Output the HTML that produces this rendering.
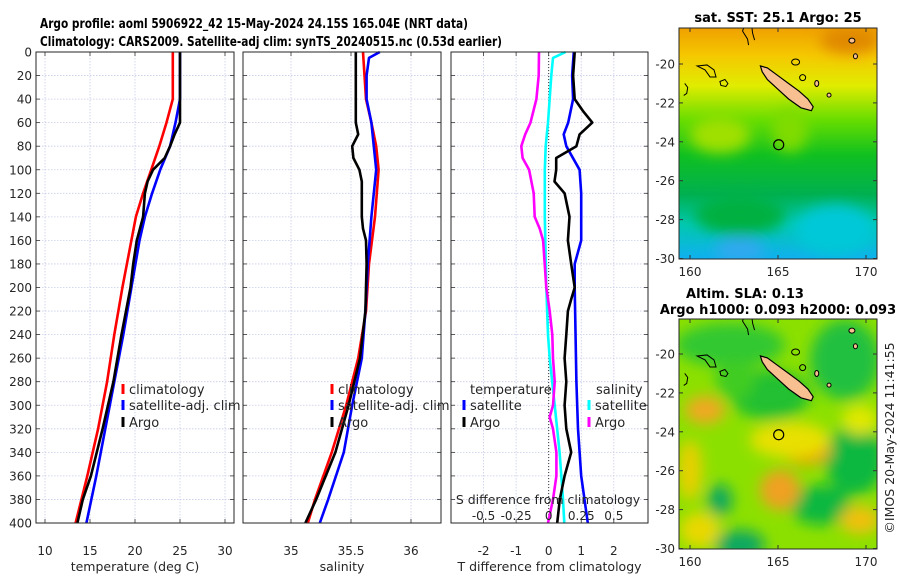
<!DOCTYPE html>
<html><head><meta charset="utf-8">
<style>
html,body{margin:0;padding:0;background:#fff;}
svg{display:block;font-family:"DejaVu Sans","Liberation Sans",sans-serif;}
</style></head>
<body>
<svg id="fig" width="900" height="580" viewBox="0 0 900 580" xmlns="http://www.w3.org/2000/svg">
<defs>
<linearGradient id="sstGrad" x1="0" y1="0" x2="0" y2="1">
<stop offset="0" stop-color="#f0a000"/>
<stop offset="0.12" stop-color="#f5c800"/>
<stop offset="0.25" stop-color="#e0ec00"/>
<stop offset="0.4" stop-color="#66dd00"/>
<stop offset="0.55" stop-color="#10c020"/>
<stop offset="0.72" stop-color="#00b050"/>
<stop offset="0.85" stop-color="#00c8b0"/>
<stop offset="1" stop-color="#10b0f0"/>
</linearGradient>
<filter id="blur" x="-50%" y="-50%" width="200%" height="200%"><feGaussianBlur stdDeviation="7"/></filter>
<clipPath id="clipTop"><rect x="679" y="28" width="198" height="231"/></clipPath>
<clipPath id="clipBot"><rect x="679" y="319" width="198" height="230"/></clipPath>
</defs>
<g id="titles">
<text x="40" y="28" font-size="13" font-weight="bold" textLength="428" lengthAdjust="spacingAndGlyphs">Argo profile: aoml 5906922_42 15-May-2024 24.15S 165.04E (NRT data)</text>
<text x="40" y="46" font-size="13" font-weight="bold" textLength="462" lengthAdjust="spacingAndGlyphs">Climatology: CARS2009. Satellite-adj clim: synTS_20240515.nc (0.53d earlier)</text>
</g>
<g id="panels"></g>
<g id="maps"></g>
</svg>
<script>
// ---- profile data ----
const tClimDepth = [0,40,60,80,100,120,140,160,200,240,280,320,360,400];
const tClimVal   = [24.2,24.2,23.5,22.7,21.8,20.9,20.1,19.6,18.6,17.7,16.9,15.9,14.7,13.4];
const tSatDepth  = [0,40,60,80,100,120,140,160,200,240,280,320,360,400];
const tSatVal    = [25,25,24.5,23.9,22.8,21.9,21.1,20.5,19.6,18.7,17.7,16.7,15.7,14.6];
const tArgoDepth = [0,40,60,70,80,90,100,110,120,140,160,180,200,220,240,280,320,360,380,400];
const tArgoVal   = [25,25,25,24.4,23.9,23.3,22,21.4,21.1,20.9,20.2,19.8,19.5,19,18.5,17.6,16.4,15.1,14.2,13.6];

const sClimDepth = [0,40,60,80,100,140,180,220,260,300,340,380,400];
const sClimVal   = [35.60,35.625,35.67,35.71,35.73,35.70,35.65,35.625,35.56,35.46,35.34,35.20,35.14];
const sSatDepth  = [0,5,20,40,60,80,100,140,180,220,260,300,340,380,400];
const sSatVal    = [35.74,35.65,35.63,35.63,35.67,35.69,35.71,35.67,35.64,35.62,35.59,35.51,35.44,35.31,35.24];
const sArgoDepth = [0,60,70,80,90,100,110,140,150,160,180,220,260,300,340,380,400];
const sArgoVal   = [35.54,35.54,35.56,35.51,35.52,35.57,35.59,35.59,35.60,35.625,35.63,35.62,35.575,35.48,35.37,35.21,35.12];

const dTSatDepth  = [0,20,40,60,70,80,100,120,160,180,200,280,320,360,400];
const dTSatVal    = [0.77,0.72,0.75,0.6,0.46,0.54,0.95,1.0,1.0,0.8,0.8,0.85,0.9,1.0,1.2];
const dTArgoDepth = [0,20,40,50,60,70,80,90,100,110,120,140,160,180,200,210,220,240,260,280,300,320,340,360,380,400];
const dTArgoVal   = [0.8,0.75,0.8,1.05,1.34,0.95,0.85,0.23,0.23,0.18,0.49,0.64,0.59,0.69,0.8,0.69,0.59,0.54,0.49,0.54,0.49,0.54,0.69,0.49,0.34,0.26];
const dSSatDepth  = [0,5,20,60,80,100,140,200,240,260,300,340,380,400];
const dSSatVal    = [0.13,0.033,0.02,-0.005,-0.023,-0.03,-0.03,-0.018,-0.005,0.008,0.046,0.084,0.11,0.12];
const dSArgoDepth = [0,20,40,60,70,80,90,100,120,140,150,160,200,220,240,260,280,300,310,320,340,360,380,400];
const dSArgoVal   = [-0.074,-0.077,-0.094,-0.14,-0.18,-0.21,-0.2,-0.15,-0.115,-0.107,-0.069,-0.043,-0.018,0.008,0.028,0.033,0.046,0.033,0.008,0.033,0.059,0.059,0.033,-0.005];

const depthTicks = [0,20,40,60,80,100,120,140,160,180,200,220,240,260,280,300,320,340,360,380,400];
const tTicks = [10,15,20,25,30];
const sTicks = [35,35.5,36];
const sTickLabels = ['35','35.5','36'];
const dTTicks = [-2,-1,0,1,2];
const dSTicks = [-0.5,-0.25,0,0.25,0.5];
const dSTickLabels = ['-0.5','-0.25','0','0.25','0.5'];

// map data
const latTicks = [-20,-22,-24,-26,-28,-30];
const lonTicks = [160,165,170];
const argoLon = 165.04, argoLat = -24.15;
const ncLon = [164.0,164.4,165.0,165.6,166.2,166.7,167.0,166.9,166.3,165.6,165.0,164.4,164.1];
const ncLat = [-20.1,-20.2,-20.6,-21.0,-21.4,-21.8,-22.2,-22.4,-22.25,-21.8,-21.3,-20.8,-20.4];
const sstTitle = 'sat. SST: 25.1 Argo: 25';

const NS='http://www.w3.org/2000/svg';
function el(tag, attrs, parent, text){
  const e=document.createElementNS(NS,tag);
  for(const k in attrs) e.setAttribute(k,attrs[k]);
  if(text!==undefined) e.textContent=text;
  parent.appendChild(e); return e;
}
const panels=document.getElementById('panels');
const Y0=52, Y1=523;
function yD(d){return Y0+(d/400)*(Y1-Y0);}

function makePanel(name,x0,x1,dmin,dmax,ticks,labels,xlabel,showY){
  const g=el('g',{},panels);
  
  
  const sx=v=>x0+(v-dmin)/(dmax-dmin)*(x1-x0);
  // grid
  depthTicks.forEach(d=>{
    const l=el('line',{x1:x0,x2:x1,y1:yD(d),y2:yD(d),stroke:'#c8cce8','stroke-width':0.8,'stroke-dasharray':'1.5,1.5'},g);
    
    
    el('line',{x1:x0,x2:x0+4,y1:yD(d),y2:yD(d),stroke:'#333','stroke-width':0.8},g);
    el('line',{x1:x1-4,x2:x1,y1:yD(d),y2:yD(d),stroke:'#333','stroke-width':0.8},g);
    if(showY){
      const t=el('text',{x:x0-4,y:yD(d)+4.5,'font-size':12,'text-anchor':'end',fill:'#262626'},g,String(d));
      
      
    }
  });
  ticks.forEach((v,i)=>{
    el('line',{x1:sx(v),x2:sx(v),y1:Y0,y2:Y1,stroke:'#c8cce8','stroke-width':0.8,'stroke-dasharray':'1.5,1.5'},g);
    el('line',{x1:sx(v),x2:sx(v),y1:Y1-4,y2:Y1,stroke:'#333','stroke-width':0.8},g);
    el('line',{x1:sx(v),x2:sx(v),y1:Y0,y2:Y0+4,stroke:'#333','stroke-width':0.8},g);
    const t=el('text',{x:sx(v),y:555,'font-size':12,'text-anchor':'middle',fill:'#262626'},g,labels[i]);
    
    
  });
  const xl=el('text',{x:(x0+x1)/2,y:571,'font-size':12.5,'text-anchor':'middle',fill:'#262626'},g,xlabel);
  
  
  return {g,sx};
}
function series(p,depths,vals,color,name){
  const pts=depths.map((d,i)=>p.sx(vals[i]).toFixed(1)+','+yD(d).toFixed(1)).join(' ');
  const pl=el('polyline',{points:pts,fill:'none',stroke:color,'stroke-width':2.6,'stroke-linejoin':'round'},p.g);
  
  
}
function frame(p,x0,x1){
  el('rect',{x:x0,y:Y0,width:x1-x0,height:Y1-Y0,fill:'none',stroke:'#262626','stroke-width':1},p.g);
}
function legendEntry(g,x,y,color,label){
  const e=el('g',{},g);
  
  
  el('rect',{x:x-1.5,y:y-10,width:3,height:10,fill:color},e);
  el('text',{x:x+6,y:y,'font-size':13,fill:'#262626'},e,label);
}

// Panel 1: temperature
const p1=makePanel('temperature-panel',36,234,9,31,tTicks,tTicks.map(String),'temperature (deg C)',true);
series(p1,tClimDepth,tClimVal,'#ff0000','climatology-temperature-line');
series(p1,tSatDepth,tSatVal,'#0000ff','satellite-temperature-line');
series(p1,tArgoDepth,tArgoVal,'#000000','argo-temperature-line');
frame(p1,36,234);
legendEntry(p1.g,123,394,'#ff0000','climatology');
legendEntry(p1.g,123,410,'#0000ff','satellite-adj. clim');
legendEntry(p1.g,123,427,'#000000','Argo');

// Panel 2: salinity
const p2=makePanel('salinity-panel',243,441,34.6,36.25,sTicks,sTickLabels,'salinity',false);
series(p2,sClimDepth,sClimVal,'#ff0000','climatology-salinity-line');
series(p2,sSatDepth,sSatVal,'#0000ff','satellite-salinity-line');
series(p2,sArgoDepth,sArgoVal,'#000000','argo-salinity-line');
frame(p2,243,441);
legendEntry(p2.g,332,394,'#ff0000','climatology');
legendEntry(p2.g,332,410,'#0000ff','satellite-adj. clim');
legendEntry(p2.g,332,427,'#000000','Argo');

// Panel 3: differences
const p3=makePanel('difference-panel',451,648,-3,3.05,dTTicks,dTTicks.map(String),'T difference from climatology',false);
const sxS=v=>p3.sx(v*4);
el('line',{x1:p3.sx(0),x2:p3.sx(0),y1:Y0,y2:Y1,stroke:'#333','stroke-width':1,'stroke-dasharray':'1,2'},p3.g);
const p3s={g:p3.g,sx:sxS};
series(p3s,dSSatDepth,dSSatVal,'#00ffff','satellite-salinity-diff-line');
series(p3s,dSArgoDepth,dSArgoVal,'#ff00ff','argo-salinity-diff-line');
series(p3,dTSatDepth,dTSatVal,'#0000ff','satellite-temperature-diff-line');
series(p3,dTArgoDepth,dTArgoVal,'#000000','argo-temperature-diff-line');
frame(p3,451,648);
el('text',{x:470,y:394,'font-size':13,fill:'#262626'},p3.g,'temperature');
legendEntry(p3.g,464,410,'#0000ff','satellite');
legendEntry(p3.g,464,427,'#000000','Argo');
el('text',{x:596,y:394,'font-size':13,fill:'#262626'},p3.g,'salinity');
legendEntry(p3.g,589,410,'#00ffff','satellite');
legendEntry(p3.g,589,427,'#ff00ff','Argo');
const sl=el('text',{x:548,y:504,'font-size':12.5,'text-anchor':'middle',fill:'#262626'},p3.g,'S difference from climatology');


dSTicks.forEach((v,i)=>{
  const t=el('text',{x:sxS(v),y:520,'font-size':12,'text-anchor':'middle',fill:'#262626'},p3.g,dSTickLabels[i]);
  
  
});

// ---- maps ----
const maps=document.getElementById('maps');
function makeMap(name,yTop,yBot,lat20y,clip,bg){
  const g=el('g',{},maps);
  
  
  const lx=lon=>690+(lon-160)*17.6;
  const ly=lat=>lat20y+(-20-lat)*19.45;
  const inner=el('g',{'clip-path':'url(#'+clip+')'},g);
  bg(inner,lx,ly);
  // coastlines
  const pts=ncLon.map((lo,i)=>lx(lo).toFixed(1)+','+ly(ncLat[i]).toFixed(1)).join(' ');
  const isl=el('polygon',{points:pts,fill:'#f8c090',stroke:'#000','stroke-width':1.2},inner);
  
  
  el('path',{d:`M${lx(160.4)},${ly(-20.1)} l10,-1 l7,5 l2,7 l-6,0 l-5,-7 z`,fill:'none',stroke:'#000','stroke-width':1},inner);
  el('path',{d:`M${lx(161.7)},${ly(-20.9)} l5,-2 l3,4 l-2,3 l-5,-1 z`,fill:'none',stroke:'#000','stroke-width':1},inner);
  el('path',{d:`M${lx(163.1)},${ly(-18)} l-2,6 l5,8 l1,6 M${lx(163.5)},${ly(-18)} l1,8 l2,7`,fill:'none',stroke:'#000','stroke-width':1},inner);
  el('ellipse',{cx:lx(166),cy:ly(-19.9),rx:4,ry:3,fill:'none',stroke:'#000','stroke-width':1},inner);
  el('ellipse',{cx:lx(166.4),cy:ly(-20.7),rx:3,ry:3,fill:'none',stroke:'#000','stroke-width':1},inner);
  el('ellipse',{cx:lx(167.2),cy:ly(-21),rx:2,ry:3,fill:'#f8c090',stroke:'#000','stroke-width':1},inner);
  el('ellipse',{cx:lx(167.9),cy:ly(-21.6),rx:2,ry:2,fill:'#f8c090',stroke:'#000','stroke-width':1},inner);
  el('ellipse',{cx:lx(169.2),cy:ly(-18.8),rx:3,ry:2.5,fill:'#f8c090',stroke:'#000','stroke-width':1},inner);
  el('ellipse',{cx:lx(169.4),cy:ly(-19.6),rx:2,ry:2.5,fill:'#f8c090',stroke:'#000','stroke-width':1},inner);
  el('path',{d:`M${lx(159.7)},${ly(-21)} l3,4 l-1,6 l-3,2`,fill:'none',stroke:'#000','stroke-width':1},inner);
  const ac=el('circle',{cx:lx(argoLon),cy:ly(argoLat),r:5,fill:'none',stroke:'#000','stroke-width':1.2},inner);
  
  
  el('rect',{x:679,y:yTop,width:198,height:yBot-yTop,fill:'none',stroke:'#262626','stroke-width':1},g);
  latTicks.forEach(la=>{
    const y=ly(la);
    el('line',{x1:679,x2:683,y1:y,y2:y,stroke:'#333'},g);
    el('line',{x1:873,x2:877,y1:y,y2:y,stroke:'#333'},g);
    const t=el('text',{x:675,y:y+4.5,'font-size':12,'text-anchor':'end',fill:'#262626'},g,String(la));
    
    
  });
  lonTicks.forEach(lo=>{
    const x=lx(lo);
    el('line',{x1:x,x2:x,y1:yBot-4,y2:yBot,stroke:'#333'},g);
    el('line',{x1:x,x2:x,y1:yTop,y2:yTop+4,stroke:'#333'},g);
    const t=el('text',{x:x,y:yBot+17,'font-size':12,'text-anchor':'middle',fill:'#262626'},g,String(lo));
    
    
  });
  return g;
}
makeMap('sst-map',28,259,64,'clipTop',(g,lx,ly)=>{
  el('rect',{x:679,y:28,width:198,height:231,fill:'url(#sstGrad)'},g);
  const b=el('g',{filter:'url(#blur)'},g);
  el('ellipse',{cx:720,cy:135,rx:30,ry:18,fill:'#a0e000'},b);
  el('ellipse',{cx:790,cy:130,rx:18,ry:22,fill:'#80dc00'},b);
  el('ellipse',{cx:740,cy:215,rx:45,ry:20,fill:'#00b040'},b);
  el('ellipse',{cx:835,cy:230,rx:40,ry:25,fill:'#00c8d8'},b);
  el('ellipse',{cx:740,cy:250,rx:25,ry:12,fill:'#30a8f0'},b);
  el('ellipse',{cx:850,cy:40,rx:30,ry:14,fill:'#e08800'},b);
});
makeMap('sla-map',319,549,354,'clipBot',(g,lx,ly)=>{
  el('rect',{x:679,y:319,width:198,height:230,fill:'#8ce000'},g);
  const b=el('g',{filter:'url(#blur)'},g);
  [[730,345,55,22,'#30c830'],[845,360,35,40,'#20c040'],[770,395,40,25,'#20c030'],[855,460,30,35,'#10b840'],
   [720,500,12,16,'#10a860'],[820,505,30,20,'#10b840'],[740,545,25,15,'#10a860'],[735,380,20,20,'#40cc20']].forEach(a=>{
    el('ellipse',{cx:a[0],cy:a[1],rx:a[2],ry:a[3],fill:a[4]},b);});
  [[705,410,20,14,'#f0a820'],[806,450,25,15,'#f0a010'],[780,490,20,20,'#f0a020'],[690,470,12,30,'#e8d000'],
   [860,520,20,14,'#f0c010'],[790,440,40,18,'#e8e000'],[700,530,20,18,'#e8d800'],[860,420,18,15,'#e0e800']].forEach(a=>{
    el('ellipse',{cx:a[0],cy:a[1],rx:a[2],ry:a[3],fill:a[4]},b);});
});
// map titles
const mt=[[sstTitle,778,22],['Altim. SLA: 0.13',745,298],['Argo h1000: 0.093 h2000: 0.093',778,314]];
mt.forEach((m,i)=>{
  const t=el('text',{x:m[1],y:m[2],'font-size':13,'font-weight':'bold','text-anchor':'middle',fill:'#000'},maps,m[0]);
  
  
});
const cr=el('text',{x:0,y:0,'font-size':12.5,'text-anchor':'middle',fill:'#262626',transform:'translate(894,438) rotate(-90)'},maps,'©IMOS 20-May-2024 11:41:55');


</script>
</body></html>
